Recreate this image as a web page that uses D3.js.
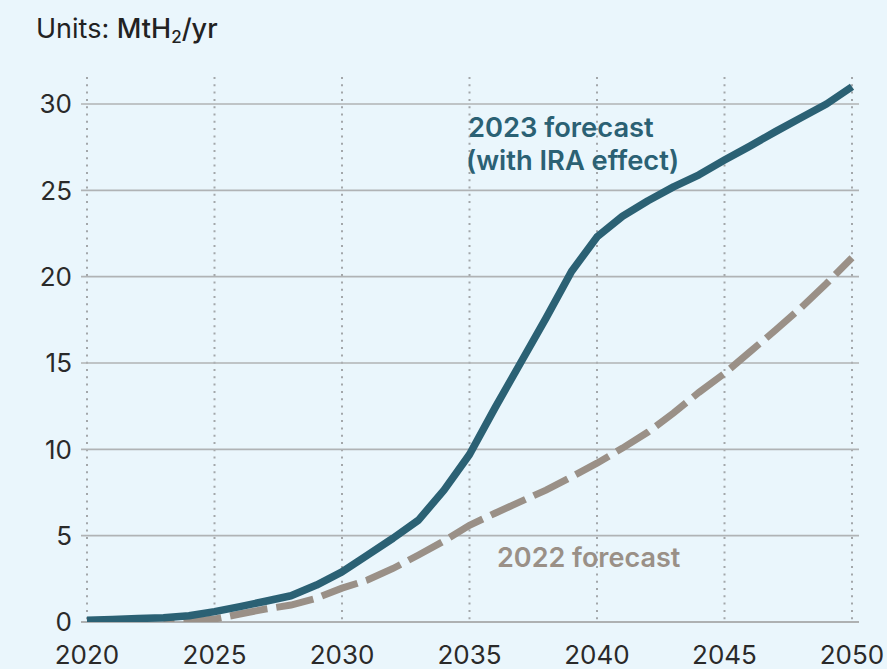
<!DOCTYPE html>
<html><head><meta charset="utf-8">
<script src="https://cdn.jsdelivr.net/npm/d3@7"></script>
<style>body{margin:0;background:#eaf6fc;} svg{display:block;font-family:Inter, "Open Sans", sans-serif;}</style>
</head><body>
<script>
const years = d3.range(2020, 2051);
const forecast2023 = [0.1,0.15,0.2,0.25,0.36,0.6,0.89,1.2,1.52,2.14,2.9,3.88,4.85,5.9,7.64,9.7,12.4,15.0,17.6,20.3,22.3,23.5,24.4,25.2,25.9,26.75,27.56,28.4,29.2,30.0,31.0];
const forecast2022 = [null,null,null,0,0.05,0.17,0.46,0.75,0.98,1.38,1.96,2.43,3.1,3.88,4.69,5.6,6.3,6.97,7.64,8.4,9.2,10.07,11.0,12.1,13.3,14.4,15.65,16.9,18.2,19.6,21.1];
const xTicks = [2020,2025,2030,2035,2040,2045,2050];
const yTicks = [0,5,10,15,20,25,30];

const W = 887, H = 669;
const x = d3.scaleLinear().domain([2020,2050]).range([87,852]);
const y = d3.scaleLinear().domain([0,30]).range([622,104]);

const svg = d3.select("body").append("svg").attr("width",W).attr("height",H);
svg.append("rect").attr("width",W).attr("height",H).attr("fill","#eaf6fc");

svg.append("defs").append("clipPath").attr("id","plot")
  .append("rect").attr("x",x(2020)-10).attr("y",40).attr("width",x(2050)-x(2020)+20).attr("height",y(0)-40);

// vertical dotted gridlines
svg.append("g").selectAll("line").data(xTicks).join("line")
  .attr("x1",d=>x(d)).attr("x2",d=>x(d)).attr("y1",77).attr("y2",y(0))
  .attr("stroke","#a3a7aa").attr("stroke-width",2).attr("stroke-dasharray","2 5.3");

// horizontal gridlines
svg.append("g").selectAll("line").data(yTicks).join("line")
  .attr("x1",81).attr("x2",859).attr("y1",d=>y(d)).attr("y2",d=>y(d))
  .attr("stroke",d=>d===0?"#9a9a9a":"#b0b3b5").attr("stroke-width",1.6);

// y labels
svg.append("g").selectAll("text").data(yTicks).join("text")
  .attr("x",72).attr("y",d=>y(d)).attr("dy","0.36em").attr("text-anchor","end")
  .attr("font-size",26).attr("fill","#2a2a2a").text(d=>d);

// x labels
svg.append("g").selectAll("text").data(xTicks).join("text")
  .attr("x",d=>x(d)).attr("y",664).attr("text-anchor","middle")
  .attr("font-size",26).attr("fill","#2a2a2a").text(d=>d);

const line = d3.line().defined(d=>d[1]!=null).x(d=>x(d[0])).y(d=>y(d[1]));
const g = svg.append("g").attr("clip-path","url(#plot)");
g.append("path").datum(years.map((yr,i)=>[yr,forecast2022[i]]))
  .attr("d",line).attr("fill","none").attr("stroke","#9a9087").attr("stroke-width",7)
  .attr("stroke-dasharray","38 9").attr("stroke-dashoffset",-20);
g.append("path").datum(years.map((yr,i)=>[yr,forecast2023[i]]))
  .attr("d",line).attr("fill","none").attr("stroke","#2b6174").attr("stroke-width",7.5)
  .attr("stroke-linejoin","round");

// annotations
const a = svg.append("text").attr("font-size",27.3).attr("font-weight",600).attr("fill","#2b6174");
a.append("tspan").attr("x",468).attr("y",137).text("2023 forecast");
a.append("tspan").attr("x",466).attr("y",170).text("(with IRA effect)");
svg.append("text").attr("x",497).attr("y",567).attr("font-size",27).attr("font-weight",600)
  .attr("fill","#9a9087").text("2022 forecast");

// units
const u = svg.append("text").attr("x",36).attr("y",38).attr("font-size",27).attr("fill","#222");
u.append("tspan").text("Units: ");
u.append("tspan").attr("font-weight",500).text("MtH");
u.append("tspan").attr("font-weight",500).attr("font-size",17).attr("dy",5).text("2");
u.append("tspan").attr("font-weight",500).attr("dy",-5).text("/yr");
</script>
</body></html>
